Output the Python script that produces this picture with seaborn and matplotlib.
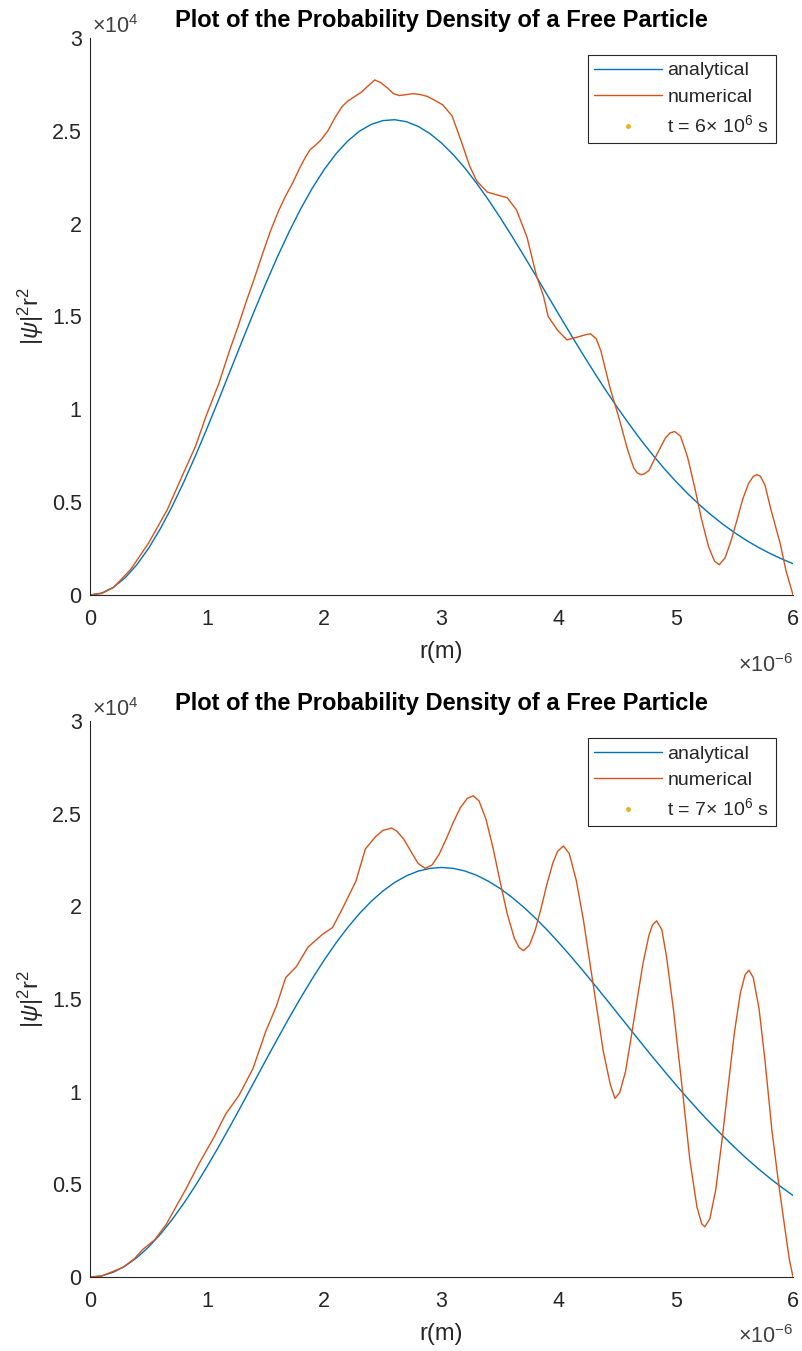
import matplotlib
matplotlib.use("Agg")
import matplotlib.pyplot as plt
from matplotlib.lines import Line2D
import seaborn as sns
import pandas as pd

# ---- data (r in units of 1e-6 m, density in units of 1e4) ----
r_analytic = [0.0, 0.1, 0.2, 0.3, 0.4, 0.5, 0.6, 0.7, 0.8, 0.9,
              1.0, 1.1, 1.2, 1.3, 1.4, 1.5, 1.6, 1.7, 1.8, 1.9,
              2.0, 2.1, 2.2, 2.3, 2.4, 2.5, 2.6, 2.7, 2.8, 2.9,
              3.0, 3.1, 3.2, 3.3, 3.4, 3.5, 3.6, 3.7, 3.8, 3.9,
              4.0, 4.1, 4.2, 4.3, 4.4, 4.5, 4.6, 4.7, 4.8, 4.9,
              5.0, 5.1, 5.2, 5.3, 5.4, 5.5, 5.6, 5.7, 5.8, 5.9, 6.0]

analytic_t6 = [0.0, 0.0104, 0.0416, 0.0928, 0.1633, 0.2517, 0.3565, 0.4759, 0.6078, 0.7498,
               0.8996, 1.0547, 1.2126, 1.3707, 1.5265, 1.6776, 1.8219, 1.9572, 2.0819, 2.1942,
               2.2928, 2.3769, 2.4454, 2.4981, 2.5347, 2.5550, 2.5597, 2.5491, 2.5240, 2.4854,
               2.4340, 2.3714, 2.2988, 2.2172, 2.1283, 2.0331, 1.9334, 1.8302, 1.7249, 1.6183,
               1.5119, 1.4064, 1.3026, 1.2019, 1.1042, 1.0104, 0.9212, 0.8360, 0.7563, 0.6810,
               0.6112, 0.5463, 0.4864, 0.4317, 0.3815, 0.3360, 0.2948, 0.2578, 0.2246, 0.1949,
               0.1685]

analytic_t7 = [0.0, 0.0067, 0.0266, 0.0595, 0.1049, 0.1623, 0.2309, 0.3097, 0.3979, 0.4941,
               0.5973, 0.7060, 0.8191, 0.9349, 1.0522, 1.1696, 1.2857, 1.3992, 1.5088, 1.6134,
               1.7119, 1.8034, 1.8868, 1.9617, 2.0273, 2.0832, 2.1291, 2.1647, 2.1901, 2.2050,
               2.2100, 2.2051, 2.1909, 2.1676, 2.1358, 2.0964, 2.0495, 1.9963, 1.9374, 1.8734,
               1.8049, 1.7332, 1.6586, 1.5818, 1.5037, 1.4247, 1.3458, 1.2667, 1.1887, 1.1123,
               1.0375, 0.9649, 0.8944, 0.8270, 0.7626, 0.7006, 0.6420, 0.5866, 0.5345, 0.4858,
               0.4401]

r_numeric_t6 = [0.0, 0.1, 0.2, 0.35, 0.5, 0.66, 0.8, 0.9, 0.99, 1.1,
                1.19, 1.26, 1.33, 1.4, 1.47, 1.54, 1.61, 1.67, 1.73, 1.79,
                1.84, 1.88, 1.92, 1.97, 2.03, 2.09, 2.15, 2.2, 2.26, 2.32,
                2.37, 2.43, 2.48, 2.54, 2.59, 2.64, 2.7, 2.76, 2.82, 2.88,
                2.94, 3.01, 3.09, 3.17, 3.24, 3.3, 3.39, 3.5, 3.56, 3.64,
                3.73, 3.81, 3.87, 3.91, 3.99, 4.07, 4.16, 4.22, 4.27, 4.32,
                4.36, 4.44, 4.51, 4.59, 4.64, 4.67, 4.7, 4.73, 4.77, 4.84,
                4.91, 4.95, 4.99, 5.04, 5.10, 5.16, 5.22, 5.28, 5.33, 5.37,
                5.42, 5.47, 5.52, 5.57, 5.62, 5.66, 5.69, 5.72, 5.76, 5.81,
                5.89, 5.94, 6.0]

numeric_t6 = [0.0, 0.008, 0.04, 0.14, 0.28, 0.46, 0.66, 0.80, 0.963, 1.14,
              1.315, 1.44, 1.574, 1.70, 1.833, 1.96, 2.07, 2.15, 2.22, 2.30,
              2.36, 2.40, 2.42, 2.45, 2.50, 2.57, 2.63, 2.66, 2.685, 2.71,
              2.74, 2.774, 2.76, 2.73, 2.70, 2.69, 2.695, 2.70, 2.695, 2.685,
              2.665, 2.64, 2.58, 2.44, 2.31, 2.23, 2.17, 2.15, 2.14, 2.074,
              1.926, 1.72, 1.61, 1.50, 1.426, 1.374, 1.389, 1.40, 1.407, 1.38,
              1.315, 1.11, 0.963, 0.778, 0.685, 0.658, 0.648, 0.652, 0.67, 0.76,
              0.845, 0.873, 0.88, 0.855, 0.742, 0.581, 0.405, 0.258, 0.182, 0.163,
              0.20, 0.29, 0.40, 0.515, 0.60, 0.638, 0.648, 0.64, 0.593, 0.463,
              0.278, 0.13, 0.0]

r_numeric_t7 = [0.0, 0.1, 0.28, 0.38, 0.45, 0.55, 0.65, 0.82, 0.93, 1.06,
                1.16, 1.27, 1.39, 1.50, 1.59, 1.67, 1.76, 1.86, 1.98, 2.07,
                2.15, 2.27, 2.35, 2.44, 2.50, 2.574, 2.62, 2.68, 2.74, 2.80,
                2.86, 2.92, 2.98, 3.04, 3.10, 3.16, 3.22, 3.27, 3.32, 3.38,
                3.44, 3.50, 3.56, 3.62, 3.66, 3.70, 3.75, 3.80, 3.85, 3.90,
                3.95, 3.99, 4.04, 4.09, 4.15, 4.21, 4.27, 4.33, 4.38, 4.44,
                4.48, 4.52, 4.57, 4.62, 4.67, 4.72, 4.77, 4.80, 4.835, 4.88,
                4.92, 4.98, 5.06, 5.12, 5.18, 5.22, 5.247, 5.29, 5.34, 5.395,
                5.45, 5.50, 5.55, 5.59, 5.623, 5.66, 5.71, 5.76, 5.82, 5.88,
                5.94, 5.97, 6.0]

numeric_t7 = [0.0, 0.006, 0.052, 0.10, 0.149, 0.20, 0.284, 0.477, 0.612, 0.757,
              0.882, 0.979, 1.124, 1.326, 1.461, 1.616, 1.674, 1.78, 1.847, 1.886,
              1.983, 2.137, 2.31, 2.378, 2.41, 2.423, 2.405, 2.36, 2.295, 2.232,
              2.205, 2.224, 2.282, 2.364, 2.453, 2.532, 2.583, 2.597, 2.569, 2.469,
              2.314, 2.133, 1.962, 1.830, 1.779, 1.761, 1.791, 1.873, 1.991, 2.121,
              2.234, 2.297, 2.326, 2.285, 2.14, 1.93, 1.68, 1.43, 1.22, 1.04,
              0.964, 0.994, 1.108, 1.30, 1.50, 1.694, 1.844, 1.899, 1.922, 1.875,
              1.73, 1.44, 0.985, 0.629, 0.378, 0.288, 0.271, 0.315, 0.470, 0.745,
              1.05, 1.321, 1.531, 1.630, 1.656, 1.617, 1.447, 1.172, 0.79, 0.49,
              0.22, 0.09, 0.0]

times = ["6", "7"]
x_ticks = [0, 1, 2, 3, 4, 5, 6]
x_tick_labels = ["0", "1", "2", "3", "4", "5", "6"]
y_ticks = [0, 0.5, 1, 1.5, 2, 2.5, 3]
y_tick_labels = ["0", "0.5", "1", "1.5", "2", "2.5", "3"]

title_text = "Plot of the Probability Density of a Free Particle"

# ---- style ----
sns.set_theme(style="white")
plt.rcParams["font.family"] = ["Liberation Sans", "DejaVu Sans"]
plt.rcParams["mathtext.fontset"] = "custom"
plt.rcParams["mathtext.rm"] = "Liberation Sans"
plt.rcParams["mathtext.it"] = "Liberation Sans:italic"
plt.rcParams["mathtext.bf"] = "Liberation Sans:bold"

BLUE = "#0072BD"
ORANGE = "#D95319"
YELLOW = "#EDB120"
AXIS = "#262626"

fig = plt.figure(figsize=(8.03, 13.51), dpi=100)
ax_top = fig.add_axes([0.1121, 0.5596, 0.8755, 0.4123])
ax_bot = fig.add_axes([0.1121, 0.0547, 0.8755, 0.4116])

panels = [
    (ax_top, analytic_t6, r_numeric_t6, numeric_t6, times[0], -77),
    (ax_bot, analytic_t7, r_numeric_t7, numeric_t7, times[1], -66),
]

for ax, ana, r_num, num, t, exp_offset in panels:
    df_a = pd.DataFrame({"r": r_analytic, "p": ana})
    df_n = pd.DataFrame({"r": r_num, "p": num})
    sns.lineplot(data=df_a, x="r", y="p", ax=ax, color=BLUE, lw=1.0,
                 estimator=None, sort=False)
    sns.lineplot(data=df_n, x="r", y="p", ax=ax, color=ORANGE, lw=1.0,
                 estimator=None, sort=False)

    ax.set_xlim(0, 6)
    ax.set_ylim(0, 3)
    ax.set_xticks(x_ticks)
    ax.set_xticklabels(x_tick_labels)
    ax.set_yticks(y_ticks)
    ax.set_yticklabels(y_tick_labels)

    for side in ("top", "right"):
        ax.spines[side].set_visible(False)
    for side in ("left", "bottom"):
        ax.spines[side].set_color(AXIS)
        ax.spines[side].set_linewidth(0.8)

    ax.tick_params(axis="both", direction="in", length=4, width=0.8,
                   colors=AXIS, labelsize=15.5)
    ax.tick_params(axis="x", pad=10)
    ax.tick_params(axis="y", pad=6)

    ax.set_xlabel("r(m)", fontsize=17, color=AXIS, labelpad=8)
    ax.set_ylabel(r"|$\psi$|$^2$r$^2$", fontsize=17, color=AXIS, labelpad=4)
    ax.set_title(title_text, fontsize=17, fontweight="bold", color="black", pad=8)

    # exponent multipliers for each axis
    ax.annotate(r"×10$^{4}$", xy=(0, 1), xycoords="axes fraction",
                xytext=(2, 5), textcoords="offset pixels",
                ha="left", va="baseline", fontsize=15.5, color="#404040")
    ax.annotate(r"×10$^{-6}$", xy=(1, 0), xycoords="axes fraction",
                xytext=(0, exp_offset), textcoords="offset pixels",
                ha="right", va="baseline", fontsize=15.5, color="#404040")

    handles = [
        Line2D([], [], color=BLUE, lw=1.0),
        Line2D([], [], color=ORANGE, lw=1.0),
        Line2D([], [], color=YELLOW, ls="", marker=".", markersize=5),
    ]
    labels = ["analytical", "numerical", "t = " + t + "× 10$^{6}$ s"]
    leg = ax.legend(handles, labels, loc="upper right", fontsize=14,
                    frameon=True, fancybox=False, framealpha=1,
                    edgecolor=AXIS, borderpad=0.35, labelspacing=0.45,
                    handlelength=3.45, handletextpad=0.3, borderaxespad=0.88)
    leg.get_frame().set_linewidth(0.8)
    for txt in leg.get_texts():
        txt.set_color(AXIS)

fig.savefig("out.png", dpi=100, facecolor="white")
